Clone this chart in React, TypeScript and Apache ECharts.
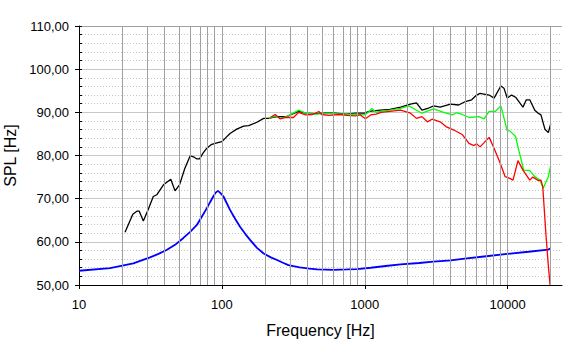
import React, { useEffect, useRef } from "react";
import * as echarts from "echarts";

const xTickLabels = [10, 100, 1000, 10000];
const yTickLabels = [50, 60, 70, 80, 90, 100, 110];

const blackFreq = [21, 23.8, 25.4, 26.4, 28.2, 30.5, 33.1, 35, 39, 43.9, 47, 50.5, 55, 59.9, 63.3, 66.8, 69.8, 74, 78.5, 84, 89.6, 99.8, 107, 114, 127, 142, 154, 176, 196, 213, 230, 250, 284, 310, 345, 385, 450, 520, 620, 740, 860, 1000, 1070, 1283, 1500, 1780, 2090, 2300, 2513, 2800, 3040, 3370, 3980, 4540, 5060, 5600, 6060, 6410, 7420, 8030, 8960, 9420, 9930, 10660, 11360, 12790, 13500, 14270, 15480, 16350, 17100, 18220, 19250, 20000];
const blackSpl = [62.2, 66.4, 67.1, 67.1, 64.8, 67.5, 70.5, 70.9, 73.2, 74.5, 71.8, 73.2, 77.0, 79.9, 79.7, 79.2, 79.2, 80.6, 81.7, 82.5, 82.8, 83.2, 84.2, 85.1, 86.1, 86.8, 86.9, 87.7, 88.6, 88.6, 88.9, 89.0, 89.0, 89.6, 90.2, 89.8, 89.7, 89.8, 89.8, 89.6, 89.8, 89.8, 90.2, 90.5, 90.7, 91.2, 91.9, 92.2, 90.5, 91.0, 91.5, 91.2, 91.9, 91.7, 92.5, 92.9, 94.0, 94.4, 94.0, 93.3, 96.1, 95.6, 93.3, 94.0, 93.5, 91.2, 92.9, 92.9, 90.5, 89.8, 89.4, 86.1, 85.3, 87.3];

const greenFreq = [213, 236, 255, 284, 345, 385, 450, 520, 620, 740, 860, 990, 1060, 1120, 1200, 1283, 1500, 1780, 2040, 2190, 2513, 2870, 3040, 3480, 4090, 4400, 4830, 5360, 6290, 6830, 7420, 8180, 8960, 9930, 10350, 11360, 11940, 12300, 12950, 14270, 15480, 16780, 17730, 19250, 20000];
const greenSpl = [88.6, 89.2, 88.6, 89.0, 90.5, 89.8, 89.6, 89.7, 89.7, 89.5, 89.6, 89.4, 90.0, 90.9, 90.0, 90.2, 90.5, 90.9, 91.5, 90.9, 89.8, 90.5, 90.8, 90.1, 89.4, 89.9, 89.5, 88.8, 89.0, 88.5, 90.2, 90.2, 91.5, 85.7, 85.7, 84.4, 81.3, 79.6, 76.6, 76.5, 75.1, 74.3, 72.4, 75.1, 77.6];

const redFreq = [218, 236, 255, 277, 317, 345, 385, 430, 477, 500, 560, 655, 750, 860, 930, 1010, 1100, 1200, 1300, 1500, 1780, 2090, 2300, 2513, 2740, 2960, 3370, 3700, 4200, 4830, 5360, 5800, 6060, 6410, 7420, 8030, 8870, 9600, 10350, 10900, 11800, 12800, 14270, 15000, 16350, 17100, 17600, 18500, 19200, 19800];
const redSpl = [88.8, 89.5, 88.5, 88.8, 88.8, 90.0, 89.4, 89.5, 90.2, 89.5, 89.3, 89.5, 89.3, 89.2, 89.4, 88.5, 89.4, 89.6, 90.0, 90.2, 90.5, 89.8, 88.6, 89.0, 87.8, 88.4, 87.8, 86.7, 85.9, 84.8, 82.8, 82.3, 82.7, 82.0, 84.2, 81.7, 78.2, 75.1, 74.7, 74.3, 78.8, 76.6, 74.3, 75.0, 74.2, 74.3, 72.8, 62.0, 55.0, 50.0];

const blueFreq = [10, 16.5, 24, 31.4, 36, 41, 47, 53.8, 60, 66.8, 72, 78.5, 83, 87, 90.5, 93.8, 97, 102.6, 108, 114, 124, 134, 146, 158, 176, 196, 220, 243, 270, 292, 350, 410, 465, 608, 750, 883, 1100, 1400, 1780, 2400, 3020, 4000, 5000, 6830, 9930, 14000, 19250, 20000];
const blueSpl = [53.3, 53.9, 55.0, 56.4, 57.2, 58.1, 59.3, 60.9, 62.3, 63.9, 65.7, 67.8, 69.3, 70.5, 71.4, 71.8, 71.4, 70.5, 69.0, 67.4, 65.3, 63.5, 61.8, 60.4, 58.6, 57.3, 56.4, 55.8, 55.1, 54.6, 54.1, 53.8, 53.6, 53.5, 53.6, 53.7, 54.0, 54.4, 54.8, 55.1, 55.4, 55.7, 56.1, 56.6, 57.2, 57.7, 58.2, 58.5];

const gridDecades = [10, 100, 1000, 10000];
const gridMultipliers = [1, 2, 3, 4, 5, 6, 7, 8, 9];
const xMin = 10;
const xMax = 24000;
const lastGridFreq = 20000;
const yMin = 50;
const yMax = 110;
const yMajorStep = 10;
const yMinorStep = 2;

const toPairs = (f: number[], v: number[]) => f.map((x, i) => [Math.log10(x), v[i]]);

export default function App() {
  const ref = useRef<HTMLDivElement>(null);
  useEffect(() => {
    if (!ref.current) return;
    const chart = echarts.init(ref.current, undefined, { renderer: "svg" });
    const gridFreqs: number[] = [];
    gridDecades.forEach((d) =>
      gridMultipliers.forEach((m) => {
        const f = d * m;
        if (f > xMin && f <= lastGridFreq) gridFreqs.push(f);
      })
    );
    const font = "'Liberation Sans', Arial, sans-serif";
    const lineSeries = (name: string, data: number[][], color: string, width: number) => ({
      name,
      type: "line",
      data,
      showSymbol: false,
      symbol: "none",
      z: 3,
      lineStyle: { color, width },
      itemStyle: { color },
    });
    chart.setOption({
      animation: false,
      grid: { left: 79, top: 26, right: 20, bottom: 71, containLabel: false, outerBoundsMode: "none" },
      xAxis: {
        type: "value",
        min: Math.log10(xMin),
        max: Math.log10(xMax),
        interval: 1,
        name: "Frequency [Hz]",
        nameLocation: "middle",
        nameGap: 37,
        nameTextStyle: { fontFamily: font, fontSize: 16, color: "#000" },
        axisLine: { show: true, onZero: false, lineStyle: { color: "#000", width: 1 } },
        axisTick: {
          show: true,
          length: 4,
          customValues: xTickLabels.map((v) => Math.log10(v)),
          lineStyle: { color: "#000" },
        },
        axisLabel: {
          customValues: xTickLabels.map((v) => Math.log10(v)),
          formatter: (v: number) => String(Math.round(Math.pow(10, v))),
          fontFamily: font,
          fontSize: 13,
          color: "#000",
          margin: 13,
        },
        splitLine: { show: false },
      },
      yAxis: [
        {
          type: "value",
          min: yMin,
          max: yMax,
          interval: yMajorStep,
          name: "SPL [Hz]",
          nameLocation: "middle",
          nameGap: 61,
          nameTextStyle: { fontFamily: font, fontSize: 16, color: "#000" },
          axisLine: { show: true, lineStyle: { color: "#000", width: 1 } },
          axisTick: { show: true, length: 4, lineStyle: { color: "#000" } },
          axisLabel: {
            formatter: (v: number) => v.toFixed(2).replace(".", ","),
            fontFamily: font,
            fontSize: 13,
            color: "#000",
            margin: 10,
          },
          splitLine: {
            show: true,
            lineStyle: {
              color: yTickLabels.map((v) => (v === yMax ? "#a0a0a0" : "#c8c8c8")),
              width: 1,
            },
          },
          minorTick: { show: false, splitNumber: yMajorStep / yMinorStep },
          minorSplitLine: {
            show: true,
            lineStyle: { color: "#c4c4c4", type: [1, 2], width: 1 },
          },
        },
        {
          type: "value",
          position: "left",
          offset: 0,
          min: yMin,
          max: yMax,
          interval: yMinorStep,
          axisLine: { show: false },
          axisTick: { show: true, inside: true, length: 3, lineStyle: { color: "#000" } },
          axisLabel: { show: false },
          splitLine: { show: false },
        },
      ],
      series: [
        {
          type: "line",
          data: [],
          z: 1,
          markLine: {
            silent: true,
            symbol: ["none", "none"],
            animation: false,
            label: { show: false },
            lineStyle: { color: "#a0a0a0", type: "solid", width: 1 },
            data: gridFreqs.map((f) => ({ xAxis: Math.log10(f) })),
          },
        },
        lineSeries("blue", toPairs(blueFreq, blueSpl), "#0000ff", 1.8),
        lineSeries("black", toPairs(blackFreq, blackSpl), "#000000", 1.3),
        lineSeries("green", toPairs(greenFreq, greenSpl), "#00ff00", 1.3),
        lineSeries("red", toPairs(redFreq, redSpl), "#ff0000", 1.3),
      ],
    });
    return () => chart.dispose();
  }, []);
  return (
    <div
      ref={ref}
      style={{ position: "fixed", left: 0, top: 0, width: 582, height: 356, background: "#fff" }}
    />
  );
}
